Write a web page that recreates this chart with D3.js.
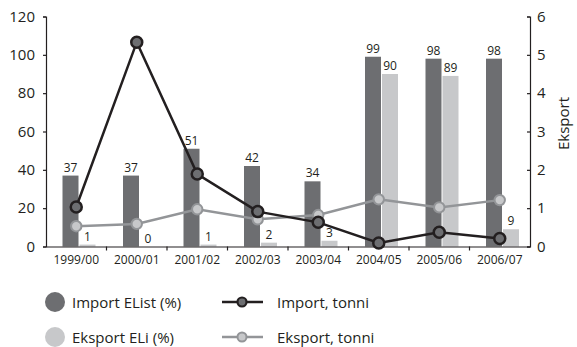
<!DOCTYPE html>
<html><head><meta charset="utf-8">
<script src="https://cdn.jsdelivr.net/npm/d3@7"></script>
<style>body{margin:0;background:#fff}svg{display:block;font-family:"Open Sans",sans-serif}</style>
</head><body><svg id="c" width="577" height="347"></svg>
<script>
const categories = ["1999/00","2000/01","2001/02","2002/03","2003/04","2004/05","2005/06","2006/07"];
const importPct = [37,37,51,42,34,99,98,98];
const exportPct = [1,0,1,2,3,90,89,9];
const importTonnes = [1.03,5.33,1.89,0.91,0.63,0.09,0.37,0.21];
const exportTonnes = [0.53,0.59,0.97,0.71,0.82,1.23,1.02,1.21];
const leftTicks = [0,20,40,60,80,100,120];
const rightTicks = [0,1,2,3,4,5,6];

const svg = d3.select("#c");
const L = 46, R = 530, T = 16.5, B = 246.5;
const x = d3.scaleBand().domain(categories).range([L, R]);
const yL = d3.scaleLinear().domain([0,120]).range([B, T]);
const yR = d3.scaleLinear().domain([0,6]).range([B, T]);
const cImp = "#6d6e71", cExp = "#c7c8ca", cImpLine = "#231f20", cExpLine = "#939598";
const bw = 16;

// bars
const g = svg.append("g");
g.selectAll(".bi").data(categories).join("rect")
  .attr("x", d => x(d) + 16.5).attr("width", bw)
  .attr("y", (d,i) => yL(importPct[i])).attr("height", (d,i) => B - yL(importPct[i]))
  .attr("fill", cImp);
g.selectAll(".be").data(categories).join("rect")
  .attr("x", d => x(d) + 33.5).attr("width", bw)
  .attr("y", (d,i) => yL(exportPct[i])).attr("height", (d,i) => B - yL(exportPct[i]))
  .attr("fill", cExp);
g.selectAll(".li").data(categories).join("text")
  .attr("x", d => x(d) + 16.5 + bw/2).attr("y", (d,i) => yL(importPct[i]) - 4)
  .attr("text-anchor","middle").attr("font-size", 12).attr("fill","#231f20")
  .text((d,i) => importPct[i]);
g.selectAll(".le").data(categories).join("text")
  .attr("x", d => x(d) + 33.5 + bw/2).attr("y", (d,i) => yL(exportPct[i]) - 4)
  .attr("text-anchor","middle").attr("font-size", 12).attr("fill","#231f20")
  .text((d,i) => exportPct[i]);

// axes
const axL = svg.append("g").attr("transform", `translate(${L},0)`)
  .call(d3.axisLeft(yL).tickValues(leftTicks).tickSize(3).tickPadding(8));
axL.selectAll("text").attr("font-size", 15).attr("fill","#231f20").attr("font-family","Open Sans, sans-serif");
const axR = svg.append("g").attr("transform", `translate(${R},0)`)
  .call(d3.axisRight(yR).tickValues(rightTicks).tickFormat(d3.format("d")).tickSize(-3).tickPadding(7));
axR.selectAll("text").attr("font-size", 15).attr("fill","#231f20").attr("font-family","Open Sans, sans-serif");
const axB = svg.append("g").attr("transform", `translate(0,${B})`)
  .call(d3.axisBottom(x).tickSize(0).tickPadding(9));
axB.selectAll("text").attr("font-size", 12).attr("fill","#231f20").attr("font-family","Open Sans, sans-serif");
svg.selectAll(".domain").attr("stroke","#231f20").attr("stroke-width",1.2);
svg.selectAll(".tick line").attr("stroke","#231f20").attr("stroke-width",1.2);
// bottom boundary ticks
svg.append("g").selectAll("line").data(categories.slice(1)).join("line")
  .attr("x1", d => x(d)).attr("x2", d => x(d)).attr("y1", B).attr("y2", B+4)
  .attr("stroke","#231f20").attr("stroke-width",1.2);

svg.append("text").attr("transform", `translate(569,${(T+B)/2 - 8}) rotate(-90)`)
  .attr("text-anchor","middle").attr("font-size",15).attr("fill","#231f20").text("Eksport");

// lines
const cx = d => x(d) + x.bandwidth()/2;
const lineE = d3.line().x((d,i) => cx(categories[i])).y(d => yR(d));
svg.append("path").datum(exportTonnes).attr("d", lineE).attr("fill","none")
  .attr("stroke", cExpLine).attr("stroke-width", 2.5);
svg.selectAll(".pe").data(exportTonnes).join("circle")
  .attr("cx", (d,i) => cx(categories[i])).attr("cy", d => yR(d)).attr("r", 5.2)
  .attr("fill", cExp).attr("stroke", cExpLine).attr("stroke-width", 2);
svg.append("path").datum(importTonnes).attr("d", lineE).attr("fill","none")
  .attr("stroke", cImpLine).attr("stroke-width", 2.5);
svg.selectAll(".pi").data(importTonnes).join("circle")
  .attr("cx", (d,i) => cx(categories[i])).attr("cy", d => yR(d)).attr("r", 5.5)
  .attr("fill", cImp).attr("stroke", cImpLine).attr("stroke-width", 2.5);

// legend
const lg = svg.append("g");
lg.append("circle").attr("cx",55).attr("cy",302).attr("r",10).attr("fill",cImp);
lg.append("circle").attr("cx",55).attr("cy",337).attr("r",10).attr("fill",cExp);
lg.append("text").attr("x",72).attr("y",307.5).attr("font-size",15).attr("fill","#231f20").text("Import EList (%)");
lg.append("text").attr("x",72).attr("y",342.5).attr("font-size",15).attr("fill","#231f20").text("Eksport ELi (%)");
lg.append("line").attr("x1",222).attr("x2",263).attr("y1",302).attr("y2",302).attr("stroke",cImpLine).attr("stroke-width",2.5);
lg.append("circle").attr("cx",242).attr("cy",302).attr("r",4.5).attr("fill",cImp).attr("stroke",cImpLine).attr("stroke-width",2.2);
lg.append("line").attr("x1",222).attr("x2",263).attr("y1",337).attr("y2",337).attr("stroke",cExpLine).attr("stroke-width",2.5);
lg.append("circle").attr("cx",242).attr("cy",337).attr("r",4.5).attr("fill",cExp).attr("stroke",cExpLine).attr("stroke-width",2);
lg.append("text").attr("x",277).attr("y",307.5).attr("font-size",15).attr("fill","#231f20").text("Import, tonni");
lg.append("text").attr("x",277).attr("y",342.5).attr("font-size",15).attr("fill","#231f20").text("Eksport, tonni");
</script></body></html>
